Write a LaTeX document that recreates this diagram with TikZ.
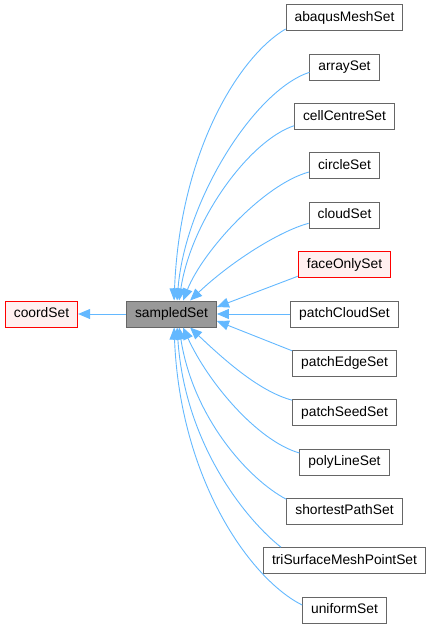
\documentclass[tikz,border=0pt]{standalone}
\usepackage{fontspec}
\setmainfont{Liberation Sans}
\usetikzlibrary{arrows.meta}
\definecolor{edgecol}{HTML}{63B8FF}
\definecolor{boxborder}{HTML}{666666}
\definecolor{grayfill}{HTML}{999999}
\definecolor{redfill}{HTML}{FFF0F0}
\begin{document}
\begin{tikzpicture}[x=1pt,y=-1pt,
  box/.style={draw=boxborder, fill=white, line width=1pt, minimum height=26pt,
    inner xsep=8.5pt, inner ysep=0pt, text height=10pt, text depth=3pt,
    font=\fontsize{13.8}{16}\selectfont},
  redbox/.style={box, draw=red, fill=redfill},
  graybox/.style={box, fill=grayfill},
  edge/.style={draw=edgecol, line width=0.9pt, arrows={Triangle[length=12pt,width=10pt]-}}]
\useasboundingbox (0,0) rectangle (430,628);

\node[redbox] (c) at (41.5,314) {coordSet};
\node[graybox] (s) at (171.5,314) {sampledSet};

\node[box] (abaqus) at (344.5,18) {abaqusMeshSet};
\node[box] (array) at (344.5,67.3) {arraySet};
\node[box] (cell) at (344.5,116.7) {cellCentreSet};
\node[box] (circle) at (344.5,166) {circleSet};
\node[box] (cloud) at (344.5,215.3) {cloudSet};
\node[redbox] (face) at (344.5,264.7) {faceOnlySet};
\node[box] (pcloud) at (344.5,314) {patchCloudSet};
\node[box] (pedge) at (344.5,363.3) {patchEdgeSet};
\node[box] (pseed) at (344.5,412.7) {patchSeedSet};
\node[box] (poly) at (344.5,462) {polyLineSet};
\node[box] (shortest) at (344.5,511.3) {shortestPathSet};
\node[box] (tri) at (344.5,560.7) {triSurfaceMeshPointSet};
\node[box] (uniform) at (344.5,610) {uniformSet};

\draw[edge] (c.east) -- (s.west);

\draw[edge] ([xshift=48pt]s.north west) .. controls +(6,-150) and +(-46,27) .. ([yshift=-11pt]abaqus.west);
\draw[edge] ([xshift=51pt]s.north west) .. controls +(8,-100) and +(-55,18) .. ([yshift=-5pt]array.west);
\draw[edge] ([xshift=53pt]s.north west) .. controls +(12,-80) and +(-45,15) .. ([yshift=-9pt]cell.west);
\draw[edge] ([xshift=57pt]s.north west) .. controls +(20,-50) and +(-45,12) .. ([yshift=-6pt]circle.west);
\draw[edge] ([xshift=64pt]s.north west) .. controls +(40,-38) and +(-30,8) .. ([yshift=-8pt]cloud.west);
\draw[edge] ([yshift=7pt]s.east) -- ([yshift=2pt]face.south west);
\draw[edge] (s.east) -- (pcloud.west);
\draw[edge] ([yshift=-7pt]s.east) -- ([yshift=-1pt]pedge.north west);
\draw[edge] ([xshift=64pt]s.south west) .. controls +(40,38) and +(-30,-8) .. ([yshift=-1pt]pseed.north west);
\draw[edge] ([xshift=57pt]s.south west) .. controls +(25,55) and +(-42,-12) .. ([yshift=9pt]poly.west);
\draw[edge] ([xshift=53pt]s.south west) .. controls +(14,90) and +(-38,-20) .. ([yshift=12pt]shortest.west);
\draw[edge] ([xshift=51pt]s.south west) .. controls +(8,120) and +(-32,-25) .. ([xshift=18pt]tri.north west);
\draw[edge] ([xshift=48pt]s.south west) .. controls +(6,152) and +(-52,-26) .. ([yshift=5pt]uniform.west);
\end{tikzpicture}
\end{document}
